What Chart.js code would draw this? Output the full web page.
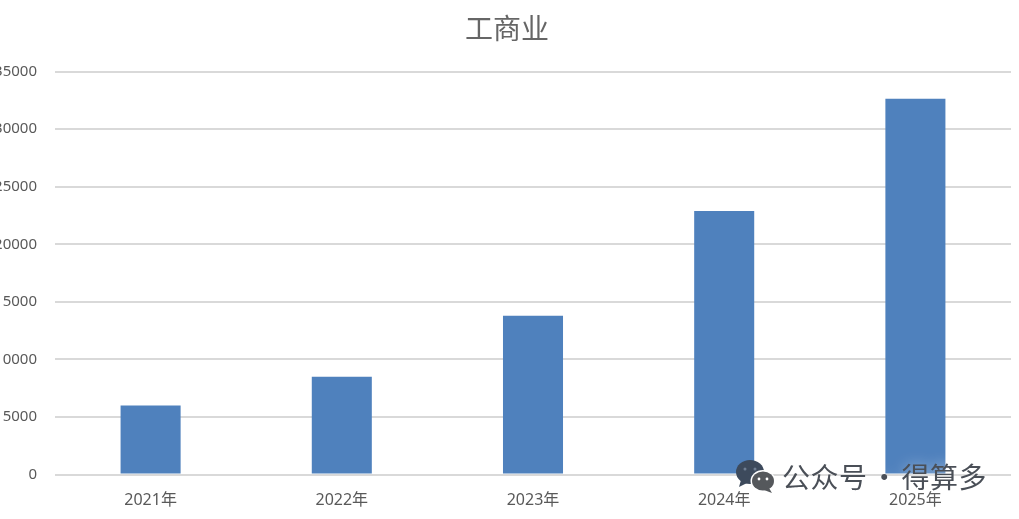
<!DOCTYPE html>
<html>
<head>
<meta charset="utf-8">
<script src="https://cdn.jsdelivr.net/npm/chart.js@4"></script>
<style>
    html, body { margin: 0; padding: 0; background: #fff; overflow: hidden; width: 1019px; height: 519px; }
    #chart { position: absolute; left: -20px; top: 0; }
    #mark { position: absolute; left: 735px; top: 459px; width: 42px; height: 36px; }
    #markText {
        position: absolute; left: 782px; top: 456px; white-space: nowrap;
        font: 28px "Noto Sans CJK SC", sans-serif; color: #4a4f57; letter-spacing: 0.5px; word-spacing: -4px;
        text-shadow: 0 0 14px rgba(255, 255, 255, 0.55);
    }
</style>
</head>
<body>
<canvas id="chart" width="1052" height="519"></canvas>
<svg id="mark" viewBox="0 0 42 36">
    <ellipse cx="15" cy="13" rx="14" ry="12" fill="#3d4a5c"/>
    <path d="M6 21 L4 28 L12 24 Z" fill="#3d4a5c"/>
    <ellipse cx="28" cy="22" rx="12.5" ry="11" fill="#fff"/>
    <ellipse cx="28" cy="22" rx="11" ry="9.5" fill="#55585c"/>
    <path d="M34 29 L37 34 L29 31 Z" fill="#55585c"/>
    <circle cx="10" cy="10" r="1.5" fill="#6f7e92"/>
    <circle cx="20" cy="10" r="1.5" fill="#6f7e92"/>
    <circle cx="24" cy="20" r="1.4" fill="#fff"/>
    <circle cx="32" cy="20" r="1.4" fill="#fff"/>
</svg>
<div id="markText">公众号 · 得算多</div>
<script>
var titleText = '工商业';
var categories = ['2021年', '2022年', '2023年', '2024年', '2025年'];
var values = [6000, 8500, 13800, 22900, 32650];
var tickValues = [0, 5000, 10000, 15000, 20000, 25000, 30000, 35000];

var textColor = '#595959';
var fontFamily = '"Noto Sans", "Noto Sans CJK SC", sans-serif';

// the title sits a bit right of where chart.js centres it
var titleShift = {
    id: 'titleShift',
    afterLayout: function (chart) {
        chart.titleBlock.left += 23;
    }
};

new Chart(document.getElementById('chart'), {
    type: 'bar',
    data: {
        labels: categories,
        datasets: [{
            data: values,
            backgroundColor: '#4f81bd',
            barPercentage: 0.314,
            categoryPercentage: 1
        }]
    },
    options: {
        responsive: false,
        animation: false,
        layout: { padding: { left: 0, right: 21, top: 0, bottom: 0 } },
        plugins: {
            legend: { display: false },
            tooltip: { enabled: false },
            title: {
                display: true,
                text: titleText,
                color: '#666666',
                font: { family: '"Noto Sans CJK SC", sans-serif', size: 28, weight: 'normal' },
                padding: { top: 12, bottom: 26 }
            }
        },
        scales: {
            x: {
                grid: { display: false },
                border: { display: false },
                ticks: { color: textColor, font: { family: fontFamily, size: 16 }, padding: 8, maxRotation: 0 },
                afterFit: function (scale) { scale.height = 44.5; }
            },
            y: {
                min: 0,
                max: 35000,
                afterBuildTicks: function (scale) {
                    scale.ticks = tickValues.map(function (v) { return { value: v }; });
                },
                grid: { color: '#d9d9d9', lineWidth: 2, drawTicks: false },
                border: { display: false },
                ticks: {
                    color: textColor,
                    font: { family: fontFamily, size: 15 },
                    padding: 18,
                    callback: function (v) { return String(v); }
                },
                afterFit: function (scale) { scale.width = 75; }
            }
        }
    },
    plugins: [titleShift]
});
</script>
</body>
</html>
